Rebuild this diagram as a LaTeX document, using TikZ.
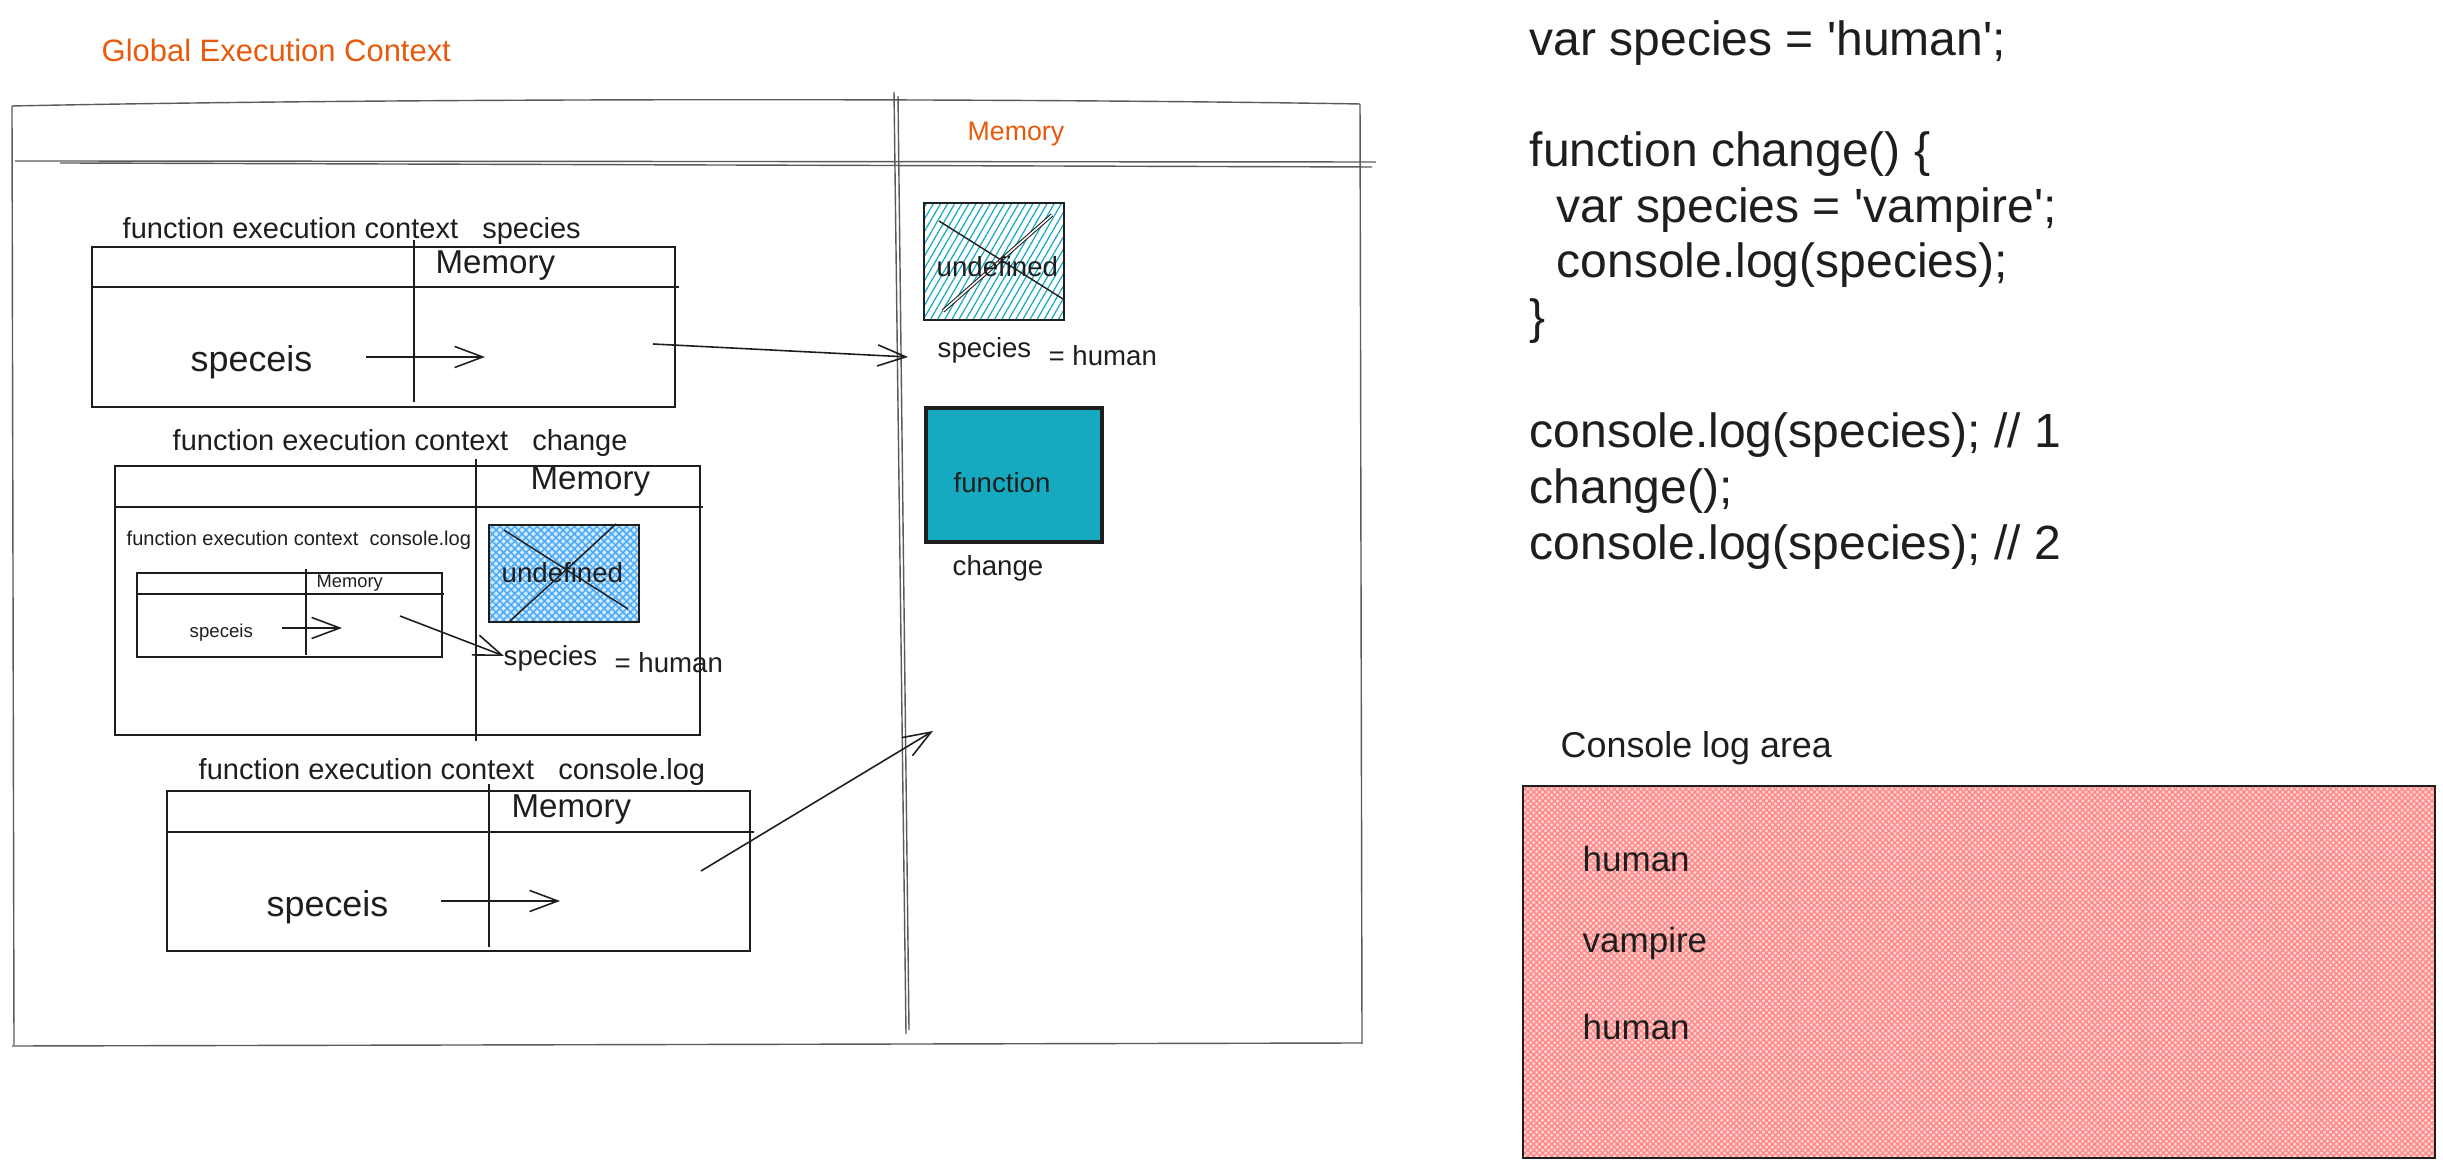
\documentclass[tikz,border=0pt]{standalone}
\usepackage{fontspec}
\setmainfont{Liberation Sans}[Ligatures=TeXOff]
\usetikzlibrary{arrows.meta,patterns.meta}
\definecolor{orng}{HTML}{E8590C}
\definecolor{tealc}{HTML}{15AABF}
\definecolor{bluc}{HTML}{4DABF7}
\definecolor{bluebg}{HTML}{D3EAFC}
\definecolor{pnk}{HTML}{FF8787}
\definecolor{pnkbg}{HTML}{FFD6D6}
\definecolor{ink}{HTML}{1E1E1E}
\definecolor{framec}{HTML}{5A5A5A}
\begin{document}
\begin{tikzpicture}[x=0.01cm,y=-0.01cm,
  txt/.style={inner sep=0pt, anchor=west, text=ink},
  codeline/.style={inner sep=0pt, anchor=base west, text=ink, font=\fontsize{13.66pt}{15.8pt}\selectfont},
  lbl/.style={txt, font=\fontsize{8.25pt}{9.5pt}\selectfont},
  memt/.style={txt, font=\fontsize{9.4pt}{11pt}\selectfont},
  bigt/.style={txt, font=\fontsize{10.2pt}{12pt}\selectfont},
  smt/.style={txt, font=\fontsize{7.85pt}{9pt}\selectfont},
  tinyt/.style={txt, font=\fontsize{5.2pt}{6pt}\selectfont},
  boxline/.style={draw=ink, line width=0.55pt},
  divline/.style={draw=ink, line width=0.35pt},
  sketch/.style={draw=framec, line width=0.4pt},
  arr/.style={draw=ink, line width=0.45pt, -{Straight Barb[length=8pt,width=6pt]}},
]
\useasboundingbox (0,0) rectangle (2443,1168);

% ---------- Global execution context frame ----------
\node[txt, text=orng, font=\fontsize{8.8pt}{10pt}\selectfont] (gtitle) at (101,50) {Global Execution Context};
\draw[sketch] (12,106) .. controls (400,98) and (1000,98) .. (1360,104);
\draw[sketch] (12,106) -- (14,1045);
\draw[sketch] (1360,104) -- (1362,1044);
\draw[sketch] (12,1046) -- (1362,1043);
\draw[sketch] (15,161) -- (1376,162);
\draw[sketch] (60,163) -- (1372,167);
\draw[sketch] (894,92) -- (906,1034);
\draw[sketch] (898,96) -- (909,1030);
\node[txt, text=orng, font=\fontsize{7.6pt}{9pt}\selectfont] (gmem) at (967,134) {Memory};

% ---------- Box 1: function execution context species ----------
\node[lbl] (l1) at (122,231) {function execution context\ \ \ species};
\draw[boxline] (92,247) rectangle (675,407);
\draw[boxline] (92,287) -- (679,287);
\draw[divline] (414,240) -- (414,402);
\node[memt] (m1) at (435,266) {Memory};
\node[bigt] (s1) at (190,362) {speceis};
\coordinate (a1s) at (366,357);
\coordinate (a1e) at (485,357);
\draw[arr] (a1s) -- (a1e);
\coordinate (g1s) at (653,344);
\coordinate (g1e) at (908,357);
\draw[arr] (g1s) -- (g1e);

% ---------- Global memory contents ----------
\draw[boxline, pattern={Lines[angle=60,distance=1.75pt,line width=0.35pt]}, pattern color=tealc] (924,203) rectangle (1064,320);
\draw[ink, line width=0.4pt] (939,221) -- (1063,299);
\draw[ink, line width=0.3pt, double=white, double distance=0.45pt] (943,311) -- (1052,215);
\node[smt] (u1) at (936,267) {undefined};
\node[smt] (sp1) at (937,350) {species};
\node[smt] (h1) at (1048,356) {= human};
\draw[draw=ink, line width=1.1pt, fill=tealc] (926,408) rectangle (1102,542);
\node[smt] (fn) at (953,483) {function};
\node[smt] (chg) at (952,568) {change};

% ---------- Box 2: function execution context change ----------
\node[lbl] (l2) at (172,443) {function execution context\ \ \ change};
\draw[boxline] (115,466) rectangle (700,735);
\draw[boxline] (115,507) -- (703,507);
\draw[divline] (476,459) -- (476,741);
\node[memt] (m2) at (530,482) {Memory};
\node[txt, font=\fontsize{5.7pt}{7pt}\selectfont] (l2n) at (126,540) {function execution context\ \ console.log};
\draw[divline, line width=0.45pt] (137,573) rectangle (442,657);
\draw[divline, line width=0.45pt] (137,594) -- (444,594);
\draw[divline] (306,569) -- (306,655);
\node[tinyt] (m2n) at (316,583) {Memory};
\node[txt, font=\fontsize{5.3pt}{6pt}\selectfont] (s2n) at (189,633) {speceis};
\coordinate (a2s) at (282,628);
\coordinate (a2e) at (342,628);
\draw[arr] (a2s) -- (a2e);
\draw[boxline, preaction={fill=bluebg}, pattern={Hatch[angle=45,distance=1.5pt,line width=0.45pt]}, pattern color=bluc] (489,525) rectangle (639,622);
\draw[ink, line width=0.4pt] (504,530) -- (628,609);
\draw[ink, line width=0.4pt] (616,524) -- (509,622);
\node[smt] (u2) at (501,573) {undefined};
\coordinate (b2s) at (400,616);
\coordinate (b2e) at (504,656);
\draw[arr] (b2s) -- (b2e);
\node[smt] (sp2) at (503,658) {species};
\node[smt] (h2) at (614,663) {= human};

% ---------- Box 3: function execution context console.log ----------
\node[lbl] (l3) at (198,772) {function execution context\ \ \ console.log};
\draw[boxline] (167,791) rectangle (750,951);
\draw[boxline] (167,832) -- (754,832);
\draw[divline] (489,784) -- (489,947);
\node[memt] (m3) at (511,810) {Memory};
\node[bigt] (s3) at (266,907) {speceis};
\coordinate (a3s) at (441,901);
\coordinate (a3e) at (560,901);
\draw[arr] (a3s) -- (a3e);
\coordinate (g3s) at (701,871);
\coordinate (g3e) at (933,731);
\draw[arr] (g3s) -- (g3e);

% ---------- Code ----------
\node[codeline] (c1) at (1529,56) {var species = 'human';};
\node[codeline] (c2) at (1529,167) {function change() \{};
\node[codeline] (c3) at (1556,223) {var species = 'vampire';};
\node[codeline] (c4) at (1556,278) {console.log(species);};
\node[codeline] (c5) at (1529,334) {\}};
\node[codeline] (c6) at (1529,448) {console.log(species); // 1};
\node[codeline] (c7) at (1529,504) {change();};
\node[codeline] (c8) at (1529,560) {console.log(species); // 2};

% ---------- Console log area ----------
\node[bigt] (clt) at (1560,748) {Console log area};
\draw[draw=ink, line width=0.45pt, preaction={fill=pnkbg}, pattern={Hatch[angle=45,distance=1.2pt,line width=0.4pt]}, pattern color=pnk] (1523,786) rectangle (2435,1158);
\node[txt, font=\fontsize{9.95pt}{12pt}\selectfont] (o1) at (1582,859) {human};
\node[txt, font=\fontsize{9.95pt}{12pt}\selectfont] (o2) at (1582,943) {vampire};
\node[txt, font=\fontsize{9.95pt}{12pt}\selectfont] (o3) at (1582,1027) {human};
\end{tikzpicture}
\end{document}
